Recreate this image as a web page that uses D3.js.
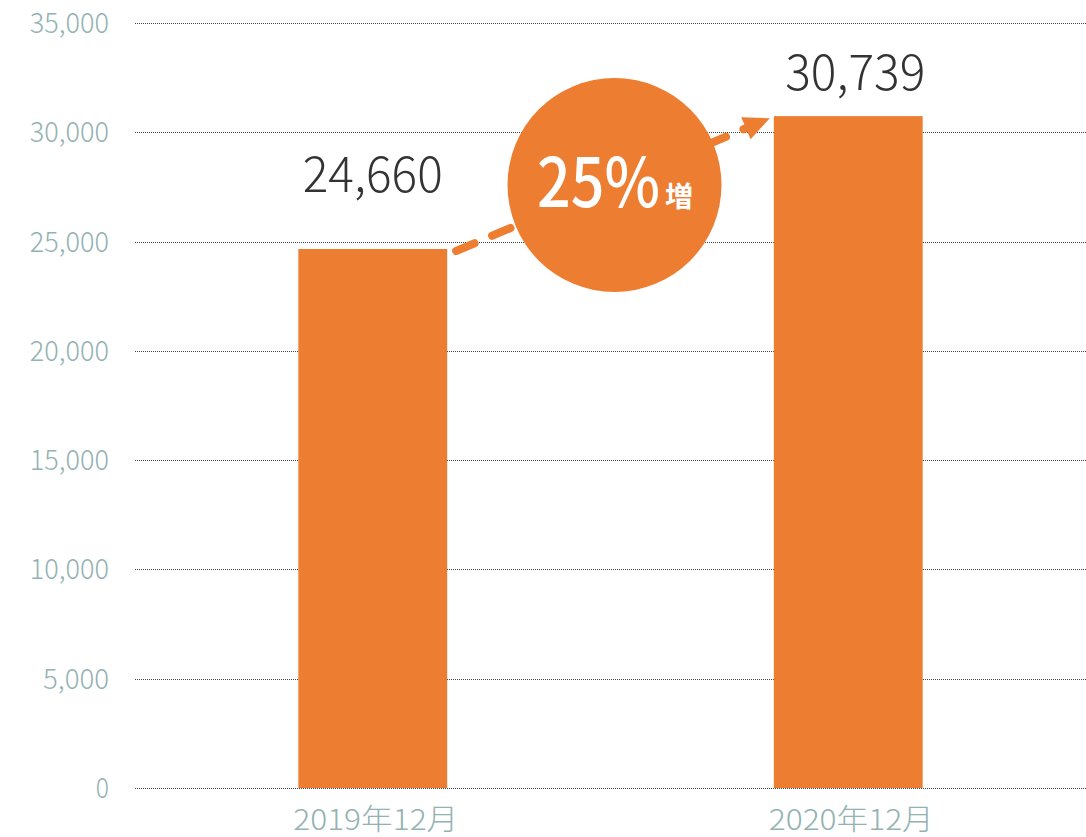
<!DOCTYPE html>
<html><head><meta charset="utf-8">
<script src="https://cdn.jsdelivr.net/npm/d3@7"></script>
<style>body{margin:0;background:#fff}</style>
</head><body>
<svg id="c" width="1086" height="837"></svg>
<script>
const categories = ["2019年12月", "2020年12月"];
const values = [24660, 30739];
const yTicks = [0, 5000, 10000, 15000, 20000, 25000, 30000, 35000];
const growthLabel = "25%";
const growthSuffix = "増";

const svg = d3.select("#c");
const W = 1086, H = 837;
const m = {left: 135, right: 0, top: 23, bottom: 49};
const orange = "#ED7D31";
const fontJP = "'Noto Sans CJK JP','Noto Sans',sans-serif";
const fmt = d3.format(",");

const x = d3.scaleBand().domain(categories).range([m.left, W - m.right])
  .paddingInner(0.687).paddingOuter(0.3435);
const y = d3.scaleLinear().domain([0, 35000]).range([H - m.bottom, m.top]);

// gridlines
svg.append("g").selectAll("line").data(yTicks).join("line")
  .attr("x1", m.left).attr("x2", W)
  .attr("y1", d => Math.round(y(d)) + 0.5).attr("y2", d => Math.round(y(d)) + 0.5)
  .attr("stroke", "#444").attr("stroke-width", 1).attr("stroke-dasharray", "1,1");

// y tick labels
svg.append("g").selectAll("text").data(yTicks).join("text")
  .attr("x", 109).attr("y", d => y(d) + 10)
  .attr("text-anchor", "end")
  .attr("font-family", fontJP).attr("font-weight", 300).attr("font-size", 28)
  .attr("fill", "#93b2b2")
  .attr("textLength", d => fmt(d).length * 13.2)
  .attr("lengthAdjust", "spacingAndGlyphs")
  .text(d => fmt(d));

// bars
svg.append("g").selectAll("rect").data(values).join("rect")
  .attr("x", (d, i) => x(categories[i])).attr("width", x.bandwidth())
  .attr("y", d => y(d)).attr("height", d => y(0) - y(d))
  .attr("fill", orange);

// value labels (first is lifted above the arrow)
const labelGap = [57, 26];
const labelDx = [0, 7];
svg.append("g").selectAll("text").data(values).join("text")
  .attr("x", (d, i) => x(categories[i]) + x.bandwidth() / 2 + labelDx[i])
  .attr("y", (d, i) => y(d) - labelGap[i])
  .attr("text-anchor", "middle")
  .attr("font-family", fontJP).attr("font-weight", 300).attr("font-size", 49)
  .attr("fill", "#333")
  .attr("textLength", 140).attr("lengthAdjust", "spacingAndGlyphs")
  .text(d => fmt(d));

// x labels
svg.append("g").selectAll("text").data(categories).join("text")
  .attr("x", d => x(d) + x.bandwidth() / 2 + 3).attr("y", 830)
  .attr("text-anchor", "middle")
  .attr("font-family", fontJP).attr("font-weight", 300).attr("font-size", 29)
  .attr("fill", "#93b2b2")
  .attr("textLength", 165).attr("lengthAdjust", "spacingAndGlyphs")
  .text(d => d);

// arrow
const x0 = x(categories[0]) + x.bandwidth() + 9, y0 = y(values[0]) + 2;
const x1 = x(categories[1]) - 4, y1 = y(values[1]) + 2;
const ang = Math.atan2(y1 - y0, x1 - x0);
const headLen = 26;
const lx = x1 - headLen * Math.cos(ang), ly = y1 - headLen * Math.sin(ang);
svg.append("line").attr("x1", x0).attr("y1", y0).attr("x2", lx).attr("y2", ly)
  .attr("stroke", orange).attr("stroke-width", 8).attr("stroke-linecap", "round")
  .attr("stroke-dasharray", "20,19");
const hw = 12;
const px = -Math.sin(ang), py = Math.cos(ang);
svg.append("path")
  .attr("d", `M${x1},${y1}L${lx + px*hw},${ly + py*hw}L${lx - px*hw},${ly - py*hw}Z`)
  .attr("fill", orange);

// circle
const cx = (x(categories[0]) + x.bandwidth() + x(categories[1])) / 2 + 4;
svg.append("circle").attr("cx", cx).attr("cy", 185).attr("r", 107).attr("fill", orange);
const gt = svg.append("text").attr("x", 537).attr("y", 207)
  .attr("fill", "#fff").attr("font-family", fontJP);
gt.append("tspan").attr("font-weight", 500).attr("font-size", 68)
  .attr("textLength", 123).attr("lengthAdjust", "spacingAndGlyphs")
  .text(growthLabel);
gt.append("tspan").attr("x", 665).attr("font-weight", 700).attr("font-size", 28)
  .text(growthSuffix);
</script>
</body></html>
